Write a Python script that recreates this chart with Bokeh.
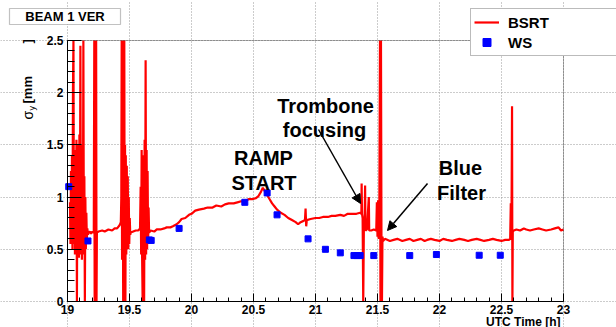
from bokeh.plotting import figure
from bokeh.models import (Range1d, FixedTicker, Label, BoxAnnotation, Arrow,
                          NormalHead, Legend, LegendItem)
from bokeh.embed import file_html
from bokeh.resources import INLINE

# ---------------------------------------------------------------- data
# BSRT vertical beam size (mm) vs UTC time (h)
bsrt_t = [
    19.020, 19.024, 19.028, 19.032, 19.036, 19.040, 19.044, 19.048, 19.052, 19.056,
    19.060, 19.064, 19.068, 19.072, 19.076, 19.080, 19.084, 19.088, 19.092, 19.096,
    19.100, 19.104, 19.108, 19.112, 19.116, 19.120, 19.124, 19.128, 19.132, 19.136,
    19.140, 19.144, 19.148, 19.152, 19.156, 19.160, 19.165,
    19.170, 19.180, 19.190, 19.200, 19.212,
    19.216, 19.219, 19.222, 19.225, 19.228, 19.231, 19.234, 19.237,
    19.25, 19.28, 19.30, 19.33, 19.36, 19.38, 19.40, 19.42, 19.430,
    19.434, 19.437, 19.440, 19.443, 19.446, 19.449, 19.452, 19.455, 19.458, 19.461,
    19.464, 19.467, 19.470, 19.474, 19.478, 19.482, 19.486, 19.490, 19.494, 19.498,
    19.502, 19.506,
    19.51, 19.53, 19.55, 19.57, 19.585,
    19.590, 19.594, 19.598, 19.602, 19.606, 19.610, 19.614, 19.618, 19.622, 19.626,
    19.630, 19.634, 19.638, 19.642, 19.646, 19.650, 19.654, 19.658,
    19.67, 19.70, 19.72, 19.75, 19.78, 19.80, 19.83, 19.85, 19.88, 19.90,
    19.92, 19.95, 19.98, 20.00, 20.03, 20.06, 20.10, 20.13, 20.17, 20.20,
    20.24, 20.27, 20.30, 20.34, 20.37, 20.40, 20.43, 20.46, 20.49, 20.52,
    20.54, 20.56, 20.575, 20.59, 20.61, 20.63, 20.65, 20.67, 20.69, 20.72,
    20.75, 20.78, 20.81, 20.84, 20.86, 20.88, 20.90, 20.915, 20.920, 20.925,
    20.93, 20.96, 21.00, 21.03, 21.06, 21.10, 21.13, 21.16, 21.20, 21.23,
    21.26, 21.30, 21.33, 21.36,
    21.370, 21.372, 21.375, 21.380, 21.385, 21.390, 21.395, 21.400, 21.403, 21.415,
    21.430, 21.433, 21.45, 21.47, 21.49, 21.495, 21.500, 21.505, 21.510, 21.515,
    21.520, 21.524, 21.528, 21.532, 21.536, 21.540, 21.545,
    21.56, 21.60, 21.63, 21.66, 21.70, 21.73, 21.76, 21.79, 21.82, 21.85,
    21.88, 21.90, 21.93, 21.96, 22.00, 22.03, 22.06, 22.10, 22.13, 22.16,
    22.20, 22.23, 22.26, 22.30, 22.33, 22.36, 22.40, 22.43, 22.46, 22.50,
    22.53, 22.56, 22.570,
    22.575, 22.580, 22.585, 22.588, 22.591, 22.60,
    22.62, 22.65, 22.68, 22.70, 22.73, 22.76, 22.80, 22.83, 22.86, 22.90,
    22.93, 22.96, 22.98, 23.00,
]
bsrt_v = [
    0.95, 0.55, 1.25, 0.60, 1.40, 0.50, 2.02, 2.50, 0.55, 1.45,
    0.45, 1.30, 0.50, 1.55, 0.00, 1.40, 0.45, 1.50, 0.42, 1.60,
    0.45, 2.45, 0.50, 1.50, 0.40, 1.35, 0.45, 2.50, 0.50, 1.20,
    0.00, 1.00, 0.50, 0.85, 0.60, 0.70, 0.64,
    0.66, 0.67, 0.65, 0.67, 0.66,
    2.50, 0.00, 1.60, 0.50, 1.55, 2.50, 0.00, 0.66,
    0.67, 0.68, 0.67, 0.69, 0.68, 0.70, 0.70, 0.73, 0.76,
    1.00, 2.50, 0.40, 2.50, 1.50, 0.00, 1.40, 0.35, 2.50, 0.30,
    1.50, 0.00, 1.40, 0.45, 1.30, 0.50, 1.20, 0.50, 1.00, 0.55,
    0.80, 0.64,
    0.66, 0.67, 0.68, 0.68, 0.70,
    1.10, 0.45, 1.45, 0.40, 0.00, 1.40, 0.35, 0.00, 1.55, 0.40,
    2.31, 0.45, 1.45, 0.50, 1.25, 0.55, 0.90, 0.66,
    0.68, 0.67, 0.69, 0.69, 0.70, 0.71, 0.71, 0.72, 0.74, 0.76,
    0.79, 0.80, 0.83, 0.84, 0.87, 0.88, 0.89, 0.90, 0.90, 0.92,
    0.91, 0.93, 0.94, 0.94, 0.95, 0.96, 0.96, 0.98, 0.98, 0.99,
    1.01, 1.05, 1.09, 1.06, 1.02, 0.98, 0.94, 0.91, 0.88, 0.85,
    0.83, 0.80, 0.78, 0.76, 0.74, 0.76, 0.77, 0.78, 0.89, 0.72,
    0.78, 0.79, 0.80, 0.80, 0.81, 0.81, 0.82, 0.82, 0.83, 0.82,
    0.84, 0.84, 0.84, 0.85,
    0.84, 1.13, 0.84, 0.80, 0.00, 0.70, 0.68, 1.11, 0.68, 0.69,
    1.00, 0.68, 0.68, 0.69, 0.68, 0.95, 0.62, 0.97, 0.60, 0.90,
    2.50, 0.00, 2.50, 0.60, 0.00, 0.62, 0.58,
    0.60, 0.58, 0.59, 0.60, 0.58, 0.59, 0.60, 0.58, 0.59, 0.60,
    0.58, 0.59, 0.60, 0.59, 0.58, 0.60, 0.59, 0.58, 0.59, 0.60,
    0.59, 0.58, 0.59, 0.60, 0.59, 0.58, 0.59, 0.60, 0.59, 0.58,
    0.59, 0.59, 0.60,
    0.94, 0.59, 1.87, 0.00, 0.67, 0.68,
    0.69, 0.68, 0.70, 0.69, 0.68, 0.69, 0.70, 0.69, 0.68, 0.69,
    0.70, 0.71, 0.68, 0.69,
]

# Wire-scanner measurements
ws_t = [19.01, 19.165, 19.66, 19.675, 19.90, 20.43, 20.61, 20.69, 20.94, 21.08,
        21.20, 21.31, 21.335, 21.36, 21.47, 21.76, 21.975, 22.32, 22.49]
ws_v = [1.10, 0.58, 0.59, 0.585, 0.70, 0.95, 1.04, 0.83, 0.60, 0.50,
        0.466, 0.44, 0.44, 0.44, 0.44, 0.44, 0.45, 0.443, 0.443]

x_ticks = [19, 19.5, 20, 20.5, 21, 21.5, 22, 22.5, 23]
x_tick_labels = ["19", "19.5", "20", "20.5", "21", "21.5", "22", "22.5", "23"]
y_ticks = [0, 0.5, 1, 1.5, 2, 2.5]
y_tick_labels = ["0", "0.5", "1", "1.5", "2", "2.5"]

# ---------------------------------------------------------------- layout
# The plotting frame spans the whole canvas; the axes box (19..23 h,
# 0..2.5 mm) sits inside it, so titles and the legend can live around it.
W, H = 616, 327
FL, FR, FT, FB = 67, 563, 40, 301          # axes box edges, canvas pixels
X0, X1, Y0, Y1 = 19.0, 23.0, 0.0, 2.5
FONT = "Liberation Sans"
RED, BLUE = "#ff0000", "#0000ff"


def dx(px):
    return X0 + (px - FL) * (X1 - X0) / (FR - FL)


def dy(py):
    return Y1 - (py - FT) * (Y1 - Y0) / (FB - FT)


p = figure(width=W, height=H,
           x_range=Range1d(dx(0), dx(W)), y_range=Range1d(dy(H), dy(0)),
           output_backend="svg", toolbar_location=None,
           min_border=0, min_border_left=0, min_border_right=0,
           min_border_top=0, min_border_bottom=0)
p.title.visible = False
p.background_fill_color = "white"
p.border_fill_color = "white"
p.outline_line_color = None

# axes, pinned to the box edges
xt = FixedTicker(ticks=x_ticks, minor_ticks=[round(19 + 0.1 * i, 1) for i in range(41)])
yt = FixedTicker(ticks=y_ticks, minor_ticks=[round(0.1 * i, 1) for i in range(26)])
p.xaxis.ticker = xt
p.yaxis.ticker = yt
p.xgrid.ticker = xt
p.ygrid.ticker = yt
p.xaxis.fixed_location = Y0
p.yaxis.fixed_location = X0
p.xaxis.bounds = (X0, X1)
p.yaxis.bounds = (Y0, Y1)
p.xaxis.major_label_overrides = dict(zip(x_ticks, x_tick_labels))
p.yaxis.major_label_overrides = dict(zip(y_ticks, y_tick_labels))
for ax in (p.xaxis, p.yaxis):
    ax.axis_line_color = "black"
    ax.major_tick_line_color = "black"
    ax.minor_tick_line_color = "black"
    ax.major_tick_out = 0
    ax.minor_tick_out = 0
    ax.major_label_text_font = FONT
    ax.major_label_text_font_style = "bold"
    ax.major_label_text_font_size = "12px"
    ax.major_label_text_color = "black"
p.xaxis.major_tick_in = 8
p.xaxis.minor_tick_in = 4
p.yaxis.major_tick_in = 14
p.yaxis.minor_tick_in = 7
p.xaxis.major_label_standoff = 3
p.yaxis.major_label_standoff = 4

p.xgrid.bounds = (Y0, Y1)
p.ygrid.bounds = (X0, X1)
for g in (p.xgrid, p.ygrid):
    g.grid_line_color = "#999999"
    g.grid_line_dash = "1 2"
    g.grid_line_width = 1

# data
bsrt = p.line(bsrt_t, bsrt_v, line_color=RED, line_width=2.2)
ws = p.scatter(ws_t, ws_v, marker="square", size=6, fill_color=BLUE, line_color=BLUE)

# box around the axes area
p.add_layout(BoxAnnotation(left=X0, right=X1, bottom=Y0, top=Y1,
                           fill_alpha=0.0, fill_color=None,
                           line_color="black", line_width=1))


def text(px, py, s, size="20px", align="center", baseline="alphabetic",
         style="bold", angle=0):
    p.add_layout(Label(x=dx(px), y=dy(py), text=s, text_align=align,
                       text_baseline=baseline, text_font=FONT,
                       text_font_size=size, text_font_style=style,
                       text_color="black", angle=angle, angle_units="deg"))


# event annotations
text(263, 157, "RAMP")
text(263.5, 182, "START")
text(325, 105, "Trombone")
text(324, 129.5, "focusing")
text(460, 167, "Blue")
text(461, 192, "Filter")

for (x0, y0, x1, y1) in [(dx(318), dy(129), dx(360), dy(203)),
                         (dx(427), dy(183), dx(387), dy(230))]:
    p.add_layout(Arrow(x_start=x0, y_start=y0, x_end=x1, y_end=y1,
                       line_color="black", line_width=1.5,
                       end=NormalHead(size=9, fill_color="black",
                                      line_color="black")))

# title box
p.add_layout(BoxAnnotation(left=dx(9), right=dx(120), top=dy(8), bottom=dy(24),
                           fill_color="white", fill_alpha=1.0,
                           line_color="#333333", line_width=1.2))
text(64.5, 16, "BEAM 1 VER", size="13px", baseline="middle")

# axis titles
text(560, 321, "UTC Time [h]", size="12px", align="right")
text(27, 119, "σ", size="14px", align="left", baseline="middle", style="normal", angle=90)
text(31, 110, "y", size="9px", align="left", baseline="middle", style="normal", angle=90)
text(27, 103, "[mm", size="13px", align="left", baseline="middle", angle=90)
text(27, 43, "]", size="13px", align="left", baseline="middle", angle=90)

# legend
legend = Legend(items=[LegendItem(label="BSRT", renderers=[bsrt]),
                       LegendItem(label="WS", renderers=[ws])],
                location=(470, H - 56), orientation="vertical",
                padding=3, spacing=0, margin=0,
                glyph_width=25, glyph_height=20, label_height=20,
                label_standoff=9, label_width=130,
                label_text_font=FONT, label_text_font_style="bold",
                label_text_font_size="15px", label_text_color="black",
                border_line_color="#777777", border_line_width=1,
                background_fill_color="white", background_fill_alpha=1.0)
p.add_layout(legend)

open("out.html", "w").write(file_html(p, INLINE))
